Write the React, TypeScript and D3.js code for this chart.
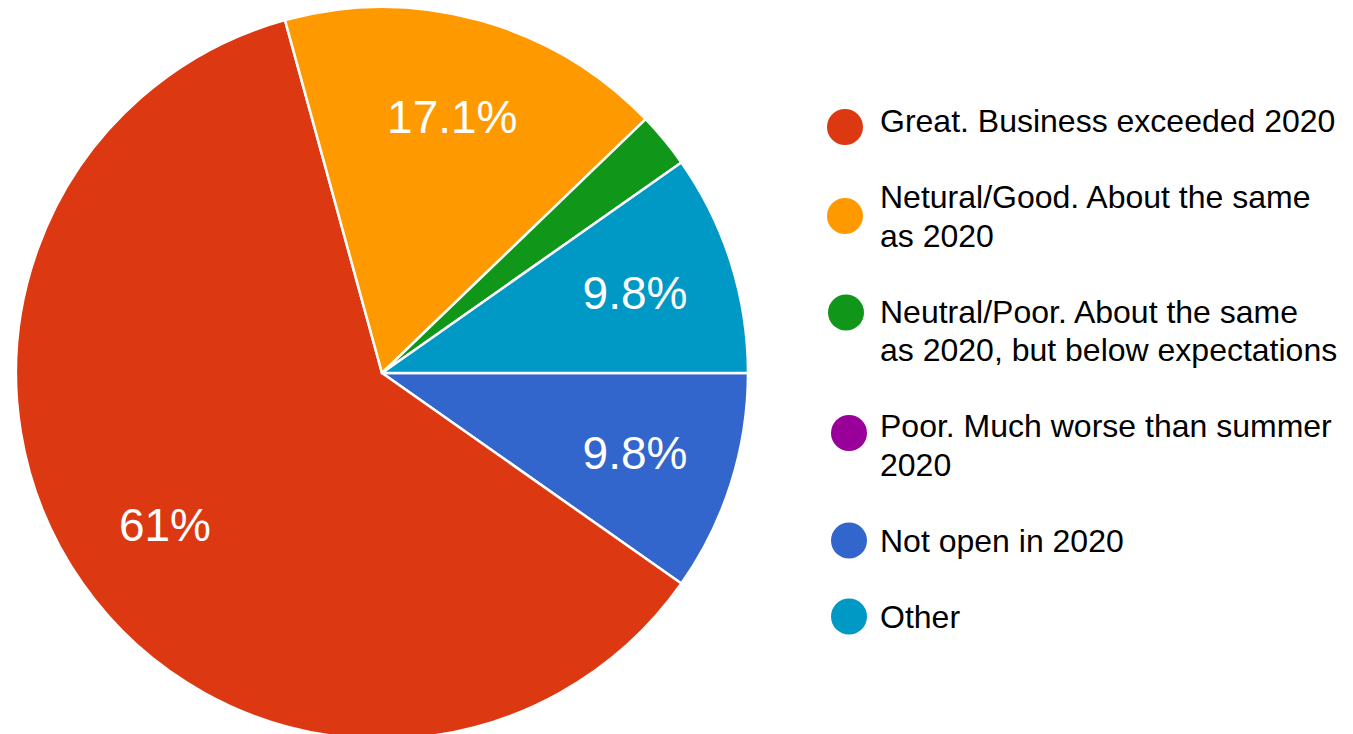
import { useEffect, useRef } from "react";
import * as d3 from "d3";

// survey answers, legend order
const categories = [
  "Great. Business exceeded 2020",
  "Netural/Good. About the same as 2020",
  "Neutral/Poor. About the same as 2020, but below expectations",
  "Poor. Much worse than summer 2020",
  "Not open in 2020",
  "Other",
];
const responses = [25, 7, 1, 0, 4, 4];
const colors = ["#dc3912", "#ff9900", "#109618", "#990099", "#3366cc", "#0099c6"];
// slices go clockwise from 3 o'clock in this order
const sliceOrder = [4, 0, 1, 2, 3, 5];

// small per-row nudges of the legend dots (x, y) as in the original
const dotShiftX = [0, 0, 1, 4, 4, 4];
const dotShiftY = [6, 19, 1, 7, 0, 0];

const W = 1353;
const H = 734;
const FONT = "'Liberation Sans', Arial, sans-serif";

export default function App() {
  const svgRef = useRef<SVGSVGElement>(null);

  useEffect(() => {
    if (!svgRef.current) return;
    document.body.style.margin = "0";

    const svg = d3.select(svgRef.current);
    svg.selectAll("*").remove();

    const cx = 382;
    const cy = 373;
    const radius = 366;
    const total = d3.sum(responses);

    const pie = d3
      .pie<number>()
      .value((i) => responses[i])
      .sort(null)
      .startAngle(Math.PI / 2)
      .endAngle(Math.PI / 2 + Math.PI * 2);

    const arcs = pie(sliceOrder).filter((d) => d.value > 0);

    const arc = d3.arc<d3.PieArcDatum<number>>().innerRadius(0).outerRadius(radius);
    const labelArc = d3
      .arc<d3.PieArcDatum<number>>()
      .innerRadius(radius * 0.725)
      .outerRadius(radius * 0.725);

    const g = svg.append("g").attr("transform", `translate(${cx},${cy})`);

    g.selectAll("path")
      .data(arcs)
      .enter()
      .append("path")
      .attr("d", (d) => arc(d) as string)
      .attr("fill", (d) => colors[d.data])
      .attr("stroke", "#fff")
      .attr("stroke-width", 2.5)
      .attr("stroke-linejoin", "round");

    const fmt = d3.format(".1~f");
    g.selectAll("text.pct")
      .data(arcs.filter((d) => d.value / total >= 0.05))
      .enter()
      .append("text")
      .attr("class", "pct")
      .attr("transform", (d) => `translate(${labelArc.centroid(d)})`)
      .attr("text-anchor", "middle")
      .attr("dy", "0.34em")
      .attr("fill", "#fff")
      .attr("font-size", 46)
      .attr("font-family", FONT)
      .text((d) => `${fmt((d.value / total) * 100)}%`);

    // Legend
    const fontSize = 32;
    const lineH = 38.5;
    const itemGap = 37.5;
    const textX = 880;
    const maxW = 459;
    let rowY = 121;

    const legend = svg.append("g");
    const probe = legend
      .append("text")
      .attr("font-size", fontSize)
      .attr("font-family", FONT)
      .attr("visibility", "hidden");

    categories.forEach((label, i) => {
      const words = label.split(" ");
      const lines: string[] = [];
      let cur = "";
      words.forEach((w) => {
        const test = cur ? `${cur} ${w}` : w;
        probe.text(test);
        const len = (probe.node() as SVGTextElement).getComputedTextLength();
        if (len > maxW && cur) {
          lines.push(cur);
          cur = w;
        } else {
          cur = test;
        }
      });
      lines.push(cur);

      legend
        .append("circle")
        .attr("cx", 845 + dotShiftX[i])
        .attr("cy", rowY + dotShiftY[i])
        .attr("r", 18)
        .attr("fill", colors[i]);

      const t = legend
        .append("text")
        .attr("font-size", fontSize)
        .attr("font-family", FONT)
        .attr("fill", "#000");
      lines.forEach((ln, k) => {
        t.append("tspan")
          .attr("x", textX)
          .attr("y", rowY + k * lineH + fontSize * 0.358)
          .text(ln);
      });

      rowY += lines.length * lineH + itemGap;
    });

    probe.remove();
  }, []);

  return (
    <svg
      ref={svgRef}
      width={W}
      height={H}
      style={{ display: "block", background: "#fff" }}
    />
  );
}
